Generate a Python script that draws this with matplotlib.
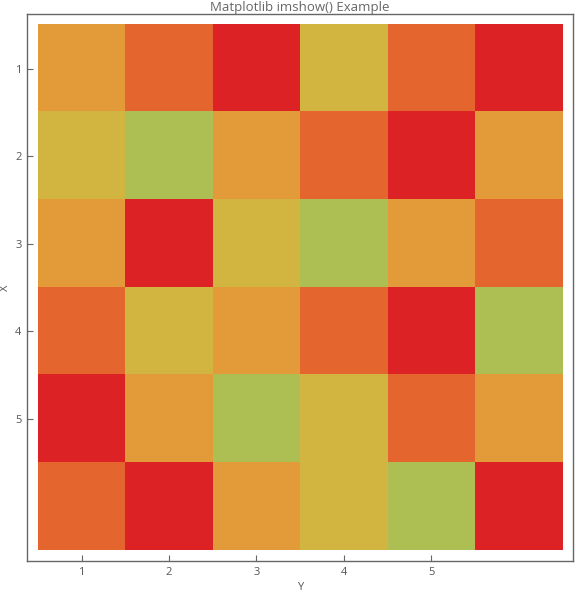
import matplotlib
matplotlib.use("Agg")
import matplotlib.pyplot as plt
from matplotlib.colors import ListedColormap
import numpy as np

# category index: 0=green, 1=yellow, 2=orange, 3=orange-red, 4=red
grid = [
    [2, 3, 4, 1, 3, 4],
    [1, 0, 2, 3, 4, 2],
    [2, 4, 1, 0, 2, 3],
    [3, 1, 2, 3, 4, 0],
    [4, 2, 0, 1, 3, 2],
    [3, 4, 2, 1, 0, 4],
]
palette = ["#adbf53", "#d2b541", "#e39a38", "#e4652d", "#dc2224"]
tick_pos = [0, 1, 2, 3, 4]
tick_labels = ["1", "2", "3", "4", "5"]

plt.rcParams['font.family'] = ['Open Sans', 'DejaVu Sans']
fig = plt.figure(figsize=(5.76, 5.95), dpi=100)
ax = fig.add_axes([27/576, 34/595, 546/576, 547/595])
cmap = ListedColormap(palette)
ax.imshow(np.array(grid), cmap=cmap, vmin=0, vmax=4, interpolation='nearest', aspect='auto')
ax.set_xlim(-0.625, 5.625)
ax.set_ylim(5.625, -0.625)
ax.set_xticks(tick_pos)
ax.set_xticklabels(tick_labels)
ax.set_yticks(tick_pos)
ax.set_yticklabels(tick_labels)
grey = "#666666"
for s in ax.spines.values():
    s.set_color(grey)
    s.set_linewidth(1.0)
ax.tick_params(direction='in', length=4, width=0.8, color=grey, labelcolor="#555555", labelsize=8, pad=4)
ax.set_title("Matplotlib imshow() Example", fontsize=9.5, color="#666666", pad=2)
ax.set_xlabel("Y", fontsize=8, color="#555555", labelpad=3)
ax.set_ylabel("X", fontsize=8, color="#555555", labelpad=3)
fig.savefig("out.png", dpi=100)
